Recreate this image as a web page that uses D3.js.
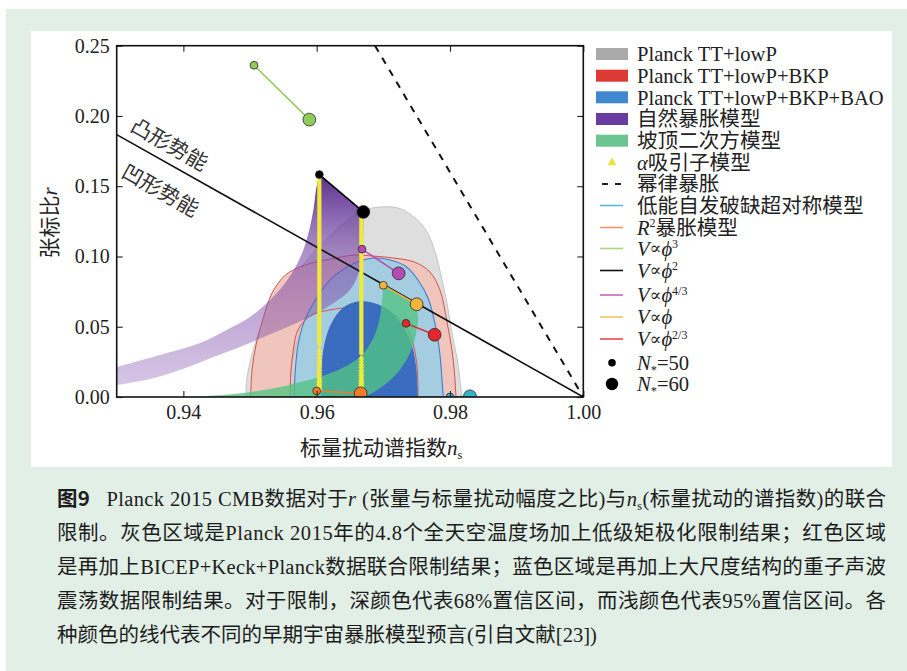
<!DOCTYPE html>
<html>
<head>
<meta charset="utf-8">
<script src="https://cdn.jsdelivr.net/npm/d3@7"></script>
<style>
  body { margin: 0; background: #fff; }
  svg { display: block; }
</style>
</head>
<body>
<svg id="fig" width="907" height="671"></svg>
<script>
// ---------------- data (ns, r) ----------------
const xTicks = [0.94, 0.96, 0.98, 1.00];
const yTicks = [0.00, 0.05, 0.10, 0.15, 0.20, 0.25];

// Planck TT+lowP (grey), 95% and 68% regions: upper boundary, left to right, closed along r = 0
const greyOuter = [[0.9494,0],[0.9495,0.0121],[0.9501,0.0263],[0.9512,0.0441],[0.9530,0.0619],[0.9556,0.0797],[0.9583,0.0961],[0.9613,0.1117],[0.9643,0.1245],[0.9668,0.1324],[0.9695,0.1352],[0.9722,0.1345],[0.9744,0.1288],[0.9764,0.1188],[0.9779,0.1010],[0.9788,0.0833],[0.9796,0.0655],[0.9803,0.0455],[0.9811,0.0263],[0.9815,0.0121],[0.9818,0]];
const greyInner = [[0.9560,0],[0.9561,0.0157],[0.9567,0.0334],[0.9579,0.0477],[0.9602,0.0584],[0.9635,0.0633],[0.9672,0.0648],[0.9707,0.0619],[0.9732,0.0534],[0.9749,0.0406],[0.9758,0.0263],[0.9763,0.0121],[0.9764,0]];
// Planck TT+lowP+BKP (red)
const redOuter = [[0.9501,0],[0.9503,0.0192],[0.9509,0.0370],[0.9519,0.0548],[0.9533,0.0739],[0.9553,0.0867],[0.9582,0.0938],[0.9620,0.0981],[0.9657,0.1010],[0.9687,0.1002],[0.9717,0.0988],[0.9747,0.0960],[0.9770,0.0889],[0.9785,0.0761],[0.9795,0.0547],[0.9803,0.0334],[0.9807,0.0156],[0.9809,0]];
const redInner = [[0.9561,0],[0.9561,0.0157],[0.9565,0.0334],[0.9572,0.0477],[0.9590,0.0576],[0.9628,0.0626],[0.9672,0.0640],[0.9710,0.0605],[0.9732,0.0512],[0.9745,0.0370],[0.9751,0.0192],[0.9752,0]];
// Planck TT+lowP+BKP+BAO (blue)
const blueOuter = [[0.9566,0],[0.9568,0.0192],[0.9572,0.0370],[0.9581,0.0534],[0.9598,0.0690],[0.9620,0.0833],[0.9643,0.0918],[0.9665,0.0968],[0.9688,0.0989],[0.9710,0.0975],[0.9733,0.0932],[0.9752,0.0833],[0.9767,0.0704],[0.9778,0.0512],[0.9785,0.0299],[0.9788,0.0121],[0.9790,0]];
const blueInner = [[0.9608,0],[0.9608,0.0192],[0.9612,0.0370],[0.9623,0.0527],[0.9640,0.0633],[0.9661,0.0676],[0.9683,0.0669],[0.9707,0.0619],[0.9728,0.0512],[0.9742,0.0370],[0.9749,0.0192],[0.9751,0]];

// Natural inflation band: N*=50 edge (bottom-left to top) and N*=60 edge (top to bottom-left)
const naturalN50 = [[0.9300,0.0213],[0.9365,0.0299],[0.9425,0.0384],[0.9465,0.0477],[0.9500,0.0569],[0.9530,0.0690],[0.9556,0.0833],[0.9575,0.0989],[0.9587,0.1153],[0.9595,0.1331],[0.9599,0.1473],[0.9604,0.1583]];
const naturalN60 = [[0.9670,0.1317],[0.9670,0.1188],[0.9668,0.1010],[0.9662,0.0868],[0.9650,0.0761],[0.9628,0.0676],[0.9595,0.0584],[0.9560,0.0505],[0.9524,0.0434],[0.9485,0.0356],[0.9445,0.0285],[0.9395,0.0192],[0.9350,0.0128],[0.9300,0.0085]];

// Hilltop quartic band: left edge (bottom to N*=50 point), right edge (N*=60 point to bottom)
const hilltopLeft = [[0.9410,0],[0.9490,0.0028],[0.9565,0.0093],[0.9625,0.0178],[0.9665,0.0285],[0.9685,0.0420],[0.9695,0.0569],[0.9700,0.0795]];
const hilltopRight = [[0.9750,0.0660],[0.9752,0.0562],[0.9749,0.0448],[0.9740,0.0313],[0.9721,0.0171],[0.9691,0.0050],[0.9670,0]];

// alpha-attractors: continuous part and the sparser markers towards r -> 0
const alphaNs = [0.9604, 0.9667];
const alphaTop = [0.1583, 0.1317];
const alphaSolidEnd = [0.036, 0.030];
const alphaMarksN50 = [0.0335,0.031,0.0285,0.026,0.0238,0.0217,0.0197,0.0178,0.016,0.0143,0.0127,0.0112,0.0098,0.0085,0.0073,0.0062,0.0052];
const alphaMarksN60 = [0.028,0.0258,0.0237,0.0217,0.0198,0.018,0.0163,0.0147,0.0132,0.0118,0.0105,0.0093,0.0082,0.0071,0.0061,0.0052,0.0044];

// Power-law inflation and the linear-potential boundary (convex / concave)
const powerLaw = [[0.96875,0.25],[1.00,0]];
const boundary = [[0.93,0.1867],[1.00,0]];

// Single-field models: [N*=50 point, N*=60 point]
const models = [
  { name: "lowSUSY", color: "#35b5cd", pts: [[0.9800,0.0000],[0.9830,0.0005]] },
  { name: "R2",      color: "#f07b2c", pts: [[0.9600,0.0043],[0.9666,0.0026]] },
  { name: "phi3",    color: "#8fcb5a", pts: [[0.9506,0.2361],[0.9589,0.1974]] },
  { name: "phi2",    color: "#000000", pts: [[0.9604,0.1583],[0.9670,0.1317]] },
  { name: "phi43",   color: "#b54cb0", pts: [[0.9668,0.1052],[0.9723,0.0880]] },
  { name: "phi1",    color: "#f4b53c", pts: [[0.9700,0.0795],[0.9750,0.0660]] },
  { name: "phi23",   color: "#e4262c", pts: [[0.9734,0.0524],[0.9777,0.0443]] }
];

// Legend entries
const PHI = "\u03D5";
const legendItems = [
  { kind: "rect", color: "#aaaaaa", label: [{t:"Planck TT+lowP"}] },
  { kind: "rect", color: "#dc3a35", label: [{t:"Planck TT+lowP+BKP"}] },
  { kind: "rect", color: "#4187d0", label: [{t:"Planck TT+lowP+BKP+BAO"}] },
  { kind: "rect", color: "#6b3c9f", label: [{t:"自然暴胀模型"}] },
  { kind: "rect", color: "#6cc590", label: [{t:"坡顶二次方模型"}] },
  { kind: "tri",  color: "#e8e53a", label: [{t:"α",i:1},{t:"吸引子模型"}] },
  { kind: "dash", color: "#222222", label: [{t:"幂律暴胀"}] },
  { kind: "line", color: "#50bfd6", label: [{t:"低能自发破缺超对称模型"}] },
  { kind: "line", color: "#f39561", label: [{t:"R",i:1},{t:"2",sup:1},{t:"暴胀模型"}] },
  { kind: "line", color: "#a9d883", label: [{t:"V",i:1},{t:"∝",op:1},{t:PHI,i:1},{t:"3",sup:1}] },
  { kind: "line", color: "#111111", label: [{t:"V",i:1},{t:"∝",op:1},{t:PHI,i:1},{t:"2",sup:1}] },
  { kind: "line", color: "#c865c3", label: [{t:"V",i:1},{t:"∝",op:1},{t:PHI,i:1},{t:"4/3",sup:1}] },
  { kind: "line", color: "#f5c060", label: [{t:"V",i:1},{t:"∝",op:1},{t:PHI,i:1}] },
  { kind: "line", color: "#ea4a4c", label: [{t:"V",i:1},{t:"∝",op:1},{t:PHI,i:1},{t:"2/3",sup:1}] },
  { kind: "dot",  size: 3.8, color: "#000", label: [{t:"N",i:1},{t:"*",sub:1},{t:"=50"}] },
  { kind: "dot",  size: 6.2, color: "#000", label: [{t:"N",i:1},{t:"*",sub:1},{t:"=60"}] }
];
const legendRowY = [54, 75.7, 97.3, 119, 140.7, 162.7, 184, 205.5, 227.5, 248.5, 270.5, 295, 317, 339, 362.7, 384];

const captionLines = [
  [{t:"图9",b:1},{t:"\u2002 Planck 2015 CMB数据对于"},{t:"r",i:1},{t:" (张量与标量扰动幅度之比)与"},{t:"n",i:1},{t:"s",sub:1},{t:"(标量扰动的谱指数)的联合"}],
  [{t:"限制。灰色区域是Planck 2015年的4.8个全天空温度场加上低级矩极化限制结果；红色区域"}],
  [{t:"是再加上BICEP+Keck+Planck数据联合限制结果；蓝色区域是再加上大尺度结构的重子声波"}],
  [{t:"震荡数据限制结果。对于限制，深颜色代表68%置信区间，而浅颜色代表95%置信区间。各"}],
  [{t:"种颜色的线代表不同的早期宇宙暴胀模型预言(引自文献[23])"}]
];

// ---------------- layout ----------------
const FONT = "'Liberation Serif','Noto Sans CJK SC',serif";
const X0 = 116.7, X1 = 583.3, YB = 397, YT = 45.7;
const x = d3.scaleLinear().domain([0.93, 1.00]).range([X0, X1]);
const y = d3.scaleLinear().domain([0, 0.25]).range([YB, YT]);

const svg = d3.select("#fig");

// page panels
svg.append("rect").attr("x", 6).attr("y", 9).attr("width", 901).attr("height", 662).attr("fill", "#e2efe6");
svg.append("rect").attr("x", 31).attr("y", 31).attr("width", 861).attr("height", 436).attr("fill", "#ffffff");

const defs = svg.append("defs");
defs.append("clipPath").attr("id", "plotClip")
  .append("rect").attr("x", X0).attr("y", YT).attr("width", X1 - X0).attr("height", YB - YT);

const purpleGrad = defs.append("linearGradient").attr("id", "purpleGrad")
  .attr("gradientUnits", "userSpaceOnUse")
  .attr("x1", 0).attr("x2", 0).attr("y1", y(0.16)).attr("y2", y(0.0));
purpleGrad.append("stop").attr("offset", 0).attr("stop-color", "#4f2185").attr("stop-opacity", 0.95);
purpleGrad.append("stop").attr("offset", 0.35).attr("stop-color", "#7a4aa8").attr("stop-opacity", 0.62);
purpleGrad.append("stop").attr("offset", 1).attr("stop-color", "#8a5db3").attr("stop-opacity", 0.33);

const line = d3.line().x(d => x(d[0])).y(d => y(d[1])).curve(d3.curveCatmullRom.alpha(0.5));
const straight = d3.line().x(d => x(d[0])).y(d => y(d[1]));

const plot = svg.append("g").attr("clip-path", "url(#plotClip)");

function region(pts, fill, stroke, opacity, sw) {
  plot.append("path").attr("d", line(pts) + "Z")
    .attr("fill", fill).attr("fill-opacity", opacity)
    .attr("stroke", stroke).attr("stroke-width", sw || 1);
}

// confidence regions
region(greyOuter, "#dedede", "#c4c4c4", 1, 1);
region(redOuter, "#f2c3b8", "#d9504a", 0.9, 1);
region(greyInner, "#cfcfcf", "#bcbcbc", 0.7, 1);
region(blueOuter, "#a5cde2", "#3c7fd6", 1, 1.1);
region(redInner, "none", "#d9504a", 1, 1);
region(blueInner, "#3a6dbf", "#3a6dbf", 1, 1);

// natural inflation band
plot.append("path")
  .attr("d", line(naturalN50) + straight(naturalN60.slice(0, 1)).replace("M", "L") + line(naturalN60).replace("M", "L") + "Z")
  .attr("fill", "url(#purpleGrad)");

// hilltop band
plot.append("path")
  .attr("d", line(hilltopLeft) + line(hilltopRight).replace("M", "L") + "Z")
  .attr("fill", "#52c483").attr("fill-opacity", 0.78);

// convex / concave boundary and power-law line
plot.append("path").attr("d", straight(boundary)).attr("fill", "none").attr("stroke", "#111").attr("stroke-width", 1.6);
plot.append("path").attr("d", straight(powerLaw)).attr("fill", "none").attr("stroke", "#111")
  .attr("stroke-width", 2).attr("stroke-dasharray", "7,7");

// alpha-attractor tracks
const tri = d3.symbol().type(d3.symbolTriangle).size(16);
alphaNs.forEach((ns, i) => {
  plot.append("line").attr("x1", x(ns)).attr("x2", x(ns))
    .attr("y1", y(alphaTop[i])).attr("y2", y(alphaSolidEnd[i]))
    .attr("stroke", "#efea3c").attr("stroke-width", 4.2);
  const marks = i === 0 ? alphaMarksN50 : alphaMarksN60;
  plot.selectAll(null).data(marks).enter().append("path")
    .attr("d", tri)
    .attr("transform", r => `translate(${x(ns)},${y(r)})`)
    .attr("fill", "#efea3c");
});

// model tracks and N* markers
models.forEach(m => {
  plot.append("path").attr("d", straight(m.pts)).attr("fill", "none")
    .attr("stroke", m.color).attr("stroke-width", m.name === "phi2" ? 1.6 : 1.5);
  plot.selectAll(null).data(m.pts).enter().append("circle")
    .attr("cx", d => x(d[0])).attr("cy", d => y(d[1]))
    .attr("r", (d, j) => j === 0 ? 3.9 : 6.4)
    .attr("fill", m.color).attr("stroke", "#2a2a2a").attr("stroke-width", 0.8);
});

// region labels along the boundary line
const ang = Math.atan2(y(0) - y(0.1867), x(1.0) - x(0.93)) * 180 / Math.PI;
[["凸形势能", 170, 143], ["凹形势能", 161, 189]].forEach(([t, cx, cy]) => {
  svg.append("text").attr("transform", `translate(${cx},${cy}) rotate(${ang})`)
    .attr("text-anchor", "middle").attr("dominant-baseline", "central")
    .attr("font-family", "'Noto Sans CJK SC',sans-serif").attr("font-size", 21)
    .attr("fill", "#333").text(t);
});

// axes: ticks pointing inwards on all four sides
function styleAxis(g) {
  g.select(".domain").remove();
  g.selectAll(".tick line").attr("stroke", "#222").attr("stroke-width", 1.1);
  g.selectAll(".tick text").attr("font-family", FONT).attr("font-size", 20).attr("fill", "#222");
}
svg.append("g").attr("transform", `translate(0,${YB})`)
  .call(d3.axisBottom(x).tickValues(xTicks).tickSizeInner(-6).tickSizeOuter(0).tickPadding(8).tickFormat(d3.format(".2f")))
  .call(styleAxis);
svg.append("g").attr("transform", `translate(0,${YT})`)
  .call(d3.axisTop(x).tickValues(xTicks).tickSizeInner(-6).tickSizeOuter(0).tickFormat(""))
  .call(styleAxis);
svg.append("g").attr("transform", `translate(${X0},0)`)
  .call(d3.axisLeft(y).tickValues(yTicks).tickSizeInner(-6).tickSizeOuter(0).tickPadding(7).tickFormat(d3.format(".2f")))
  .call(styleAxis);
svg.append("g").attr("transform", `translate(${X1},0)`)
  .call(d3.axisRight(y).tickValues(yTicks).tickSizeInner(-6).tickSizeOuter(0).tickFormat(""))
  .call(styleAxis);
svg.append("rect").attr("x", X0).attr("y", YT).attr("width", X1 - X0).attr("height", YB - YT)
  .attr("fill", "none").attr("stroke", "#111").attr("stroke-width", 1.6);

// rich text helper: italic, superscript, subscript, operator segments
function rich(textSel, segs, size) {
  let shift = 0;
  segs.forEach(s => {
    const ts = textSel.append("tspan").text(s.t);
    let target = 0;
    if (s.i) ts.attr("font-style", "italic");
    if (s.b) ts.attr("font-weight", "bold").attr("font-family", "'Noto Sans CJK SC',sans-serif");
    if (s.sup) { ts.attr("font-size", size * 0.58); target = -size * 0.36; }
    if (s.sub) { ts.attr("font-size", size * 0.6); target = size * 0.2; }
    if (s.op) { ts.attr("font-size", size * 0.85).attr("font-family", "'DejaVu Serif',serif"); target = -size * 0.06; }
    if (target !== shift) { ts.attr("dy", target - shift); shift = target; }
  });
}

// axis titles
const yl = svg.append("text").attr("transform", "translate(57,223) rotate(-90)")
  .attr("text-anchor", "middle").attr("font-family", FONT).attr("font-size", 21).attr("fill", "#222");
rich(yl, [{t:"张标比"},{t:"r",i:1}], 21);
const xl = svg.append("text").attr("x", 300).attr("y", 455)
  .attr("font-family", FONT).attr("font-size", 21).attr("fill", "#222");
rich(xl, [{t:"标量扰动谱指数"},{t:"n",i:1},{t:"s",sub:1}], 21);

// legend
const LFS = 20.6;
const lg = svg.append("g");
legendItems.forEach((it, k) => {
  const cy = legendRowY[k];
  if (it.kind === "rect") {
    lg.append("rect").attr("x", 596).attr("y", cy - 6).attr("width", 32).attr("height", 12).attr("fill", it.color);
  } else if (it.kind === "line") {
    lg.append("line").attr("x1", 600).attr("x2", 623).attr("y1", cy).attr("y2", cy)
      .attr("stroke", it.color).attr("stroke-width", 1.6);
  } else if (it.kind === "dash") {
    lg.append("line").attr("x1", 602).attr("x2", 622).attr("y1", cy).attr("y2", cy)
      .attr("stroke", it.color).attr("stroke-width", 2).attr("stroke-dasharray", "6,7");
  } else if (it.kind === "tri") {
    lg.append("path").attr("d", d3.symbol().type(d3.symbolTriangle).size(34)())
      .attr("transform", `translate(612,${cy})`).attr("fill", it.color);
  } else if (it.kind === "dot") {
    lg.append("circle").attr("cx", 612).attr("cy", cy).attr("r", it.size).attr("fill", it.color);
  }
  const tx = lg.append("text").attr("x", 637).attr("y", cy + 7.2)
    .attr("font-family", FONT).attr("font-size", LFS).attr("fill", "#222");
  rich(tx, it.label, LFS);
});

// caption, justified lines
const capX = 57, capW = 829, capY0 = 506, capDY = 34;
captionLines.forEach((segs, k) => {
  const t = svg.append("text").attr("x", capX).attr("y", capY0 + k * capDY)
    .attr("font-family", FONT).attr("font-size", 20.5).attr("fill", "#1c1c1c");
  rich(t, segs, 20.5);
  if (k < captionLines.length - 1) {
    const n = segs.map(s => s.t).join("").length;
    const natural = t.node().getComputedTextLength();
    const ls = (capW - natural) / (n - 1);
    t.attr("letter-spacing", ls);
  }
});
</script>
</body>
</html>
